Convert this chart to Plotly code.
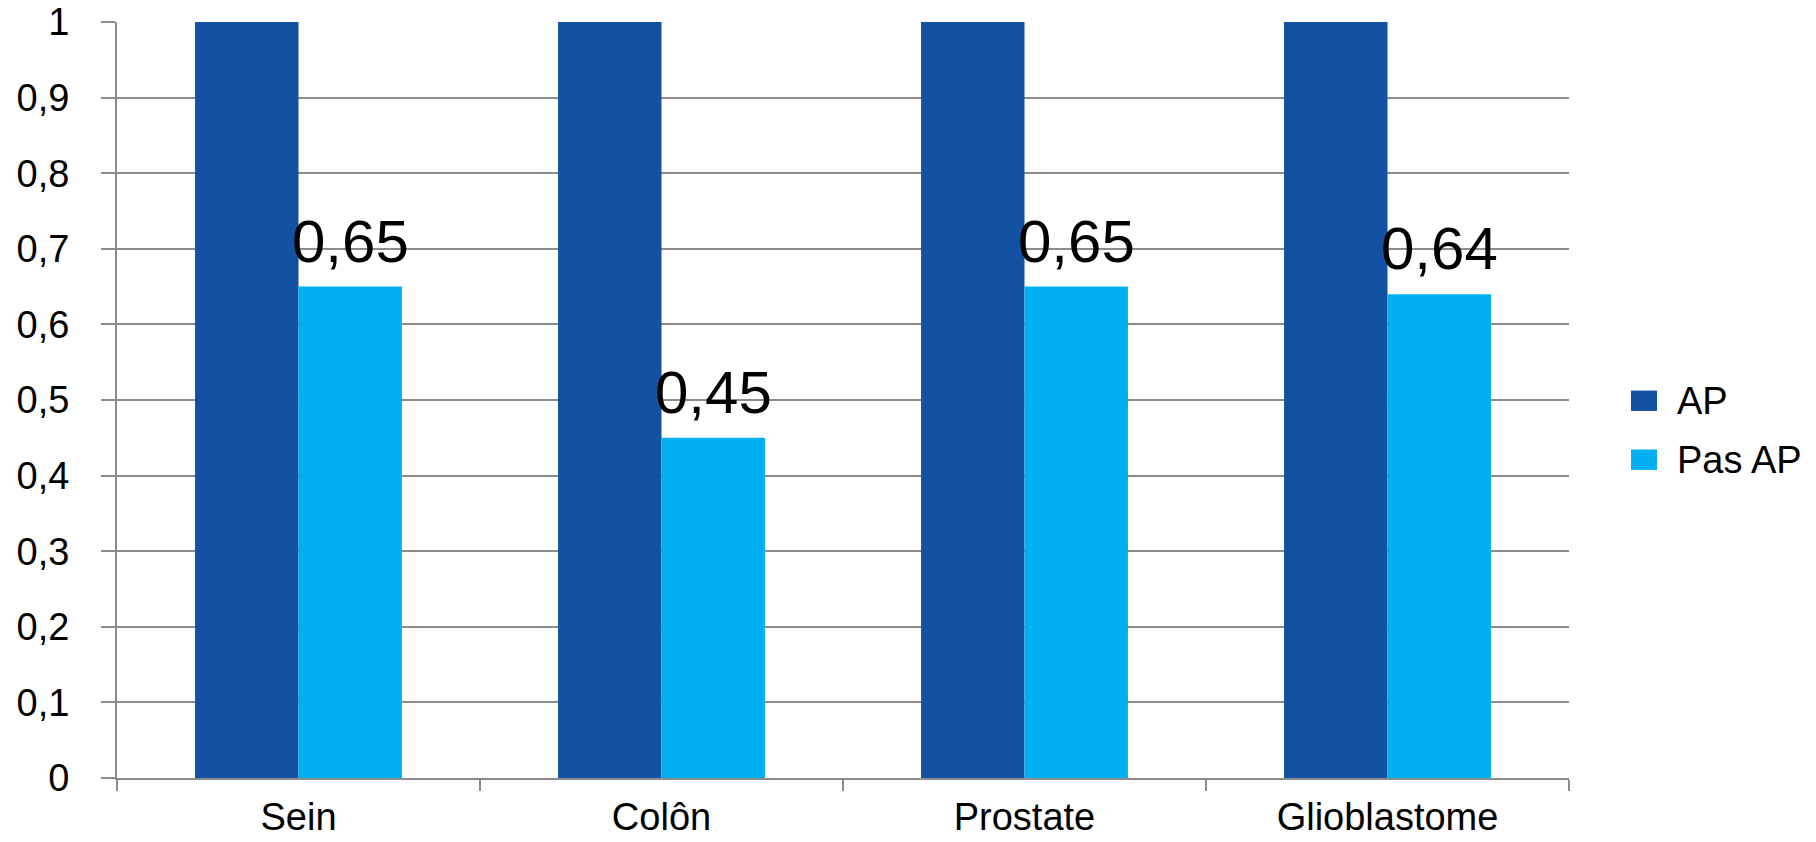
import plotly.graph_objects as go

categories = ["Sein", "Colôn", "Prostate", "Glioblastome"]
ap_values = [1, 1, 1, 1]
pas_ap_values = [0.65, 0.45, 0.65, 0.64]
y_ticks = [0, 0.1, 0.2, 0.3, 0.4, 0.5, 0.6, 0.7, 0.8, 0.9, 1]

AP_COLOR = "#1351A3"
PAS_AP_COLOR = "#00B0F0"
GRID = "#8C8C8C"
FONT = "Liberation Sans, Arial, sans-serif"

BARGAP = 0.43

fig = go.Figure()
fig.add_trace(go.Bar(name="AP", x=categories, y=ap_values,
                     marker=dict(color=AP_COLOR, line=dict(width=0)),
                     showlegend=False))
fig.add_trace(go.Bar(name="Pas AP", x=categories, y=pas_ap_values,
                     marker=dict(color=PAS_AP_COLOR, line=dict(width=0)),
                     showlegend=False))

# value labels above the "Pas AP" bars
bar_w = (1 - BARGAP) / 2
for i, v in enumerate(pas_ap_values):
    fig.add_annotation(x=i + bar_w / 2, y=v, xref="x", yref="y",
                       text=f"{v:.2f}".replace(".", ","),
                       showarrow=False, yanchor="bottom", yshift=10,
                       font=dict(family=FONT, size=60, color="black"))

# legend drawn as swatches + labels to the right of the plot
legend_items = [("AP", AP_COLOR, 0.499), ("Pas AP", PAS_AP_COLOR, 0.421)]
for name, color, yp in legend_items:
    fig.add_shape(type="rect", xref="paper", yref="paper",
                  x0=1.0427, x1=1.0606, y0=yp - 0.0135, y1=yp + 0.0135,
                  fillcolor=color, line=dict(width=0))
    fig.add_annotation(x=1.0730, y=yp, xref="paper", yref="paper",
                       text=name, showarrow=False, xanchor="left",
                       font=dict(family=FONT, size=38, color="black"))

fig.update_layout(
    width=1816, height=842,
    margin=dict(l=117, r=247, t=22, b=64, autoexpand=False),
    paper_bgcolor="white", plot_bgcolor="white",
    barmode="group", bargap=BARGAP, bargroupgap=0,
    separators=", ",
    font=dict(family=FONT, color="black"),
)
fig.update_xaxes(
    automargin=False,
    showgrid=False, showline=True, linecolor=GRID, linewidth=2,
    ticks="outside", ticklen=11, tickcolor=GRID, tickwidth=2,
    tickson="boundaries", tickfont=dict(size=38, family=FONT),
    ticklabelstandoff=4,
)
fig.update_yaxes(
    automargin=False,
    range=[0, 1], tickvals=y_ticks,
    showgrid=True, gridcolor=GRID, gridwidth=2,
    showline=True, linecolor=GRID, linewidth=2,
    ticks="outside", ticklen=14, tickcolor=GRID, tickwidth=2,
    tickfont=dict(size=38, family=FONT), ticklabelstandoff=24,
    zeroline=False,
)

fig.write_html("out.html")
